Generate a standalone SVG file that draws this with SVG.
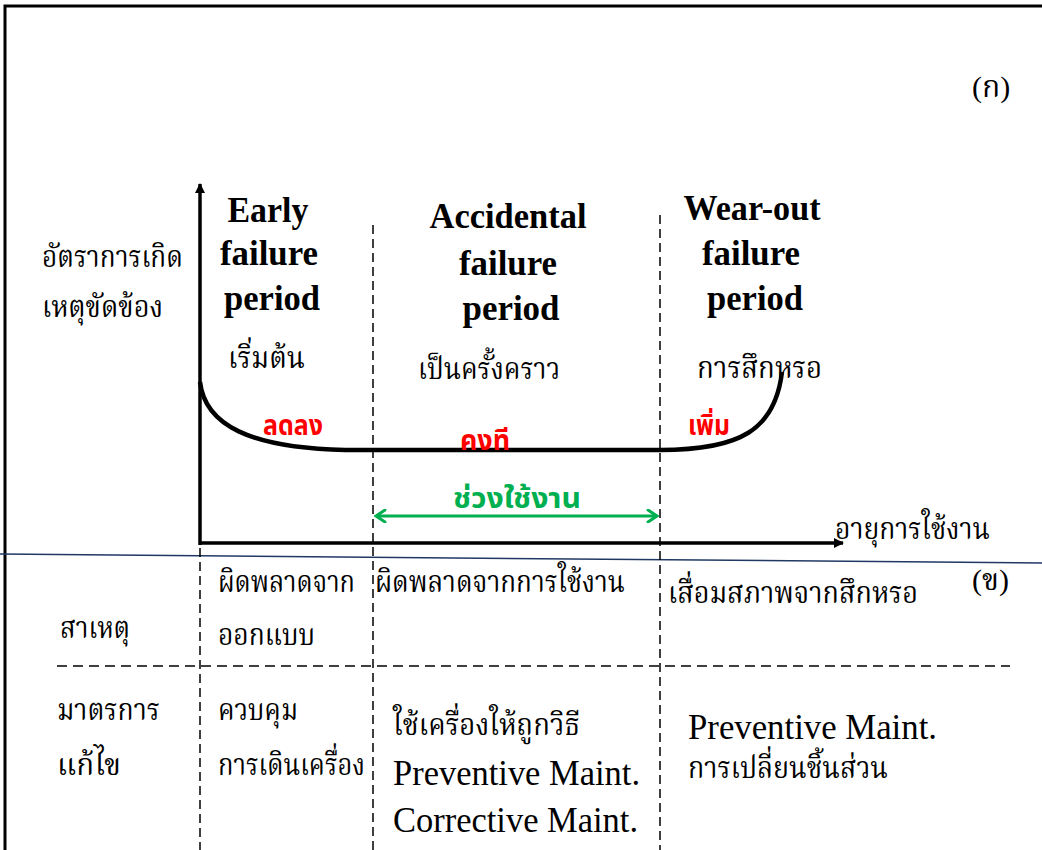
<svg xmlns="http://www.w3.org/2000/svg" width="1042" height="850" viewBox="0 0 1042 850">
  <style>
    .th { font-family: "Liberation Serif", "Noto Serif Thai", "Noto Sans Thai", serif; font-size: 30px; fill: #000; }
    .hd { font-family: "Liberation Serif", serif; font-size: 35px; font-weight: bold; fill: #000; text-anchor: middle; }
    .en { font-family: "Liberation Serif", serif; font-size: 35px; fill: #000; }
    .red { font-family: "Liberation Sans", "Noto Sans Thai", sans-serif; font-size: 28px; font-weight: bold; fill: #ff0000; }
    .grn { font-family: "Liberation Sans", "Noto Sans Thai", sans-serif; font-size: 28px; font-weight: bold; fill: #00b050; }
    .dash { stroke: #000; stroke-width: 1.5; stroke-dasharray: 9 5; fill: none; }
    .axis { stroke: #000; stroke-width: 3.5; fill: none; }
  </style>
  <defs>
    <marker id="axHead" markerWidth="10" markerHeight="10" refX="9" refY="5" orient="auto" markerUnits="userSpaceOnUse" viewBox="0 0 10 10">
      <path d="M0,0 L10,5 L0,10 Z" fill="#000"/>
    </marker>
    <marker id="gHead" markerWidth="14" markerHeight="14" refX="12" refY="7" orient="auto-start-reverse" markerUnits="userSpaceOnUse" viewBox="0 0 14 14">
      <path d="M3,1 L12,7 L3,13" fill="none" stroke="#00b050" stroke-width="3" stroke-linecap="round"/>
    </marker>
  </defs>

  <rect width="1042" height="850" fill="#fff"/>

  <!-- outer frame: left and top edges -->
  <path d="M5,850 L5,6 L1042,6" fill="none" stroke="#000" stroke-width="3"/>

  <!-- separator between the two panels -->
  <line x1="0" y1="554" x2="1042" y2="563" stroke="#203864" stroke-width="1.5"/>

  <g id="connectors">
    <!-- axes -->
    <line class="axis" x1="200" y1="545" x2="200" y2="184" marker-end="url(#axHead)"/>
    <line class="axis" x1="200" y1="543" x2="843" y2="543" marker-end="url(#axHead)"/>
    <!-- period dividers -->
    <line class="dash" x1="373" y1="225" x2="373" y2="850"/>
    <line class="dash" x1="660" y1="215" x2="660" y2="850"/>
    <line class="dash" x1="200" y1="548" x2="200" y2="850"/>
    <line class="dash" x1="57" y1="666" x2="1010" y2="666" style="stroke-dasharray:10 6"/>
    <!-- bathtub curve -->
    <path d="M200,382 C205,425 250,448 345,450 L660,450 C740,450 775,430 782,372" fill="none" stroke="#000" stroke-width="4.5"/>
    <!-- useful-life span -->
    <line x1="376" y1="516" x2="657" y2="516" stroke="#00b050" stroke-width="3" marker-start="url(#gHead)" marker-end="url(#gHead)"/>
  </g>

  <g id="panel-a-label"><text class="th" x="972" y="97">(ก)</text></g>
  <g id="y-label">
    <text class="th" x="42" y="267" textLength="141" lengthAdjust="spacingAndGlyphs">อัตราการเกิด</text>
    <text class="th" x="42" y="317" textLength="121" lengthAdjust="spacingAndGlyphs">เหตุขัดข้อง</text>
  </g>
  <g id="x-label"><text class="th" x="835" y="539" textLength="155" lengthAdjust="spacingAndGlyphs">อายุการใช้งาน</text></g>

  <g id="early">
    <text class="hd" x="268" y="222" textLength="81" lengthAdjust="spacingAndGlyphs">Early</text>
    <text class="hd" x="269" y="265" textLength="98" lengthAdjust="spacingAndGlyphs">failure</text>
    <text class="hd" x="272" y="310" textLength="96" lengthAdjust="spacingAndGlyphs">period</text>
    <text class="th" x="228" y="368" textLength="77" lengthAdjust="spacingAndGlyphs">เริ่มต้น</text>
    <text class="red" x="263" y="435" textLength="60" lengthAdjust="spacingAndGlyphs">ลดลง</text>
  </g>
  <g id="accidental">
    <text class="hd" x="508" y="228" textLength="157" lengthAdjust="spacingAndGlyphs">Accidental</text>
    <text class="hd" x="508" y="275" textLength="98" lengthAdjust="spacingAndGlyphs">failure</text>
    <text class="hd" x="511" y="320" textLength="97" lengthAdjust="spacingAndGlyphs">period</text>
    <text class="th" x="418" y="379" textLength="142" lengthAdjust="spacingAndGlyphs">เป็นครั้งคราว</text>
    <text class="red" x="460" y="450" textLength="50" lengthAdjust="spacingAndGlyphs">คงที</text>
  </g>
  <g id="wearout">
    <text class="hd" x="752" y="220" textLength="137" lengthAdjust="spacingAndGlyphs">Wear-out</text>
    <text class="hd" x="751" y="265" textLength="98" lengthAdjust="spacingAndGlyphs">failure</text>
    <text class="hd" x="755" y="310" textLength="96" lengthAdjust="spacingAndGlyphs">period</text>
    <text class="th" x="697" y="378" textLength="125" lengthAdjust="spacingAndGlyphs">การสึกหรอ</text>
    <text class="red" x="688" y="435" textLength="42" lengthAdjust="spacingAndGlyphs">เพิ่ม</text>
  </g>
  <g id="useful-life"><text class="grn" x="453" y="508" textLength="128" lengthAdjust="spacingAndGlyphs">ช่วงใช้งาน</text></g>

  <g id="panel-b-label"><text class="th" x="972" y="590">(ข)</text></g>
  <g id="cause-row">
    <text class="th" x="60" y="638" textLength="70" lengthAdjust="spacingAndGlyphs">สาเหตุ</text>
    <text class="th" x="218" y="592" textLength="137" lengthAdjust="spacingAndGlyphs">ผิดพลาดจาก</text>
    <text class="th" x="218" y="645" textLength="97" lengthAdjust="spacingAndGlyphs">ออกแบบ</text>
    <text class="th" x="375" y="592" textLength="250" lengthAdjust="spacingAndGlyphs">ผิดพลาดจากการใช้งาน</text>
    <text class="th" x="668" y="603" textLength="250" lengthAdjust="spacingAndGlyphs">เสื่อมสภาพจากสึกหรอ</text>
  </g>
  <g id="remedy-row">
    <text class="th" x="57" y="720" textLength="103" lengthAdjust="spacingAndGlyphs">มาตรการ</text>
    <text class="th" x="57" y="775" textLength="64" lengthAdjust="spacingAndGlyphs">แก้ไข</text>
    <text class="th" x="218" y="720" textLength="80" lengthAdjust="spacingAndGlyphs">ควบคุม</text>
    <text class="th" x="218" y="775" textLength="147" lengthAdjust="spacingAndGlyphs">การเดินเครื่อง</text>
    <text class="th" x="393" y="735" textLength="187" lengthAdjust="spacingAndGlyphs">ใช้เครื่องให้ถูกวิธี</text>
    <text class="en" x="393" y="785" textLength="247" lengthAdjust="spacingAndGlyphs">Preventive Maint.</text>
    <text class="en" x="393" y="832" textLength="245" lengthAdjust="spacingAndGlyphs">Corrective Maint.</text>
    <text class="en" x="688" y="739" textLength="249" lengthAdjust="spacingAndGlyphs">Preventive Maint.</text>
    <text class="th" x="688" y="778" textLength="200" lengthAdjust="spacingAndGlyphs">การเปลี่ยนชิ้นส่วน</text>
  </g>
</svg>
